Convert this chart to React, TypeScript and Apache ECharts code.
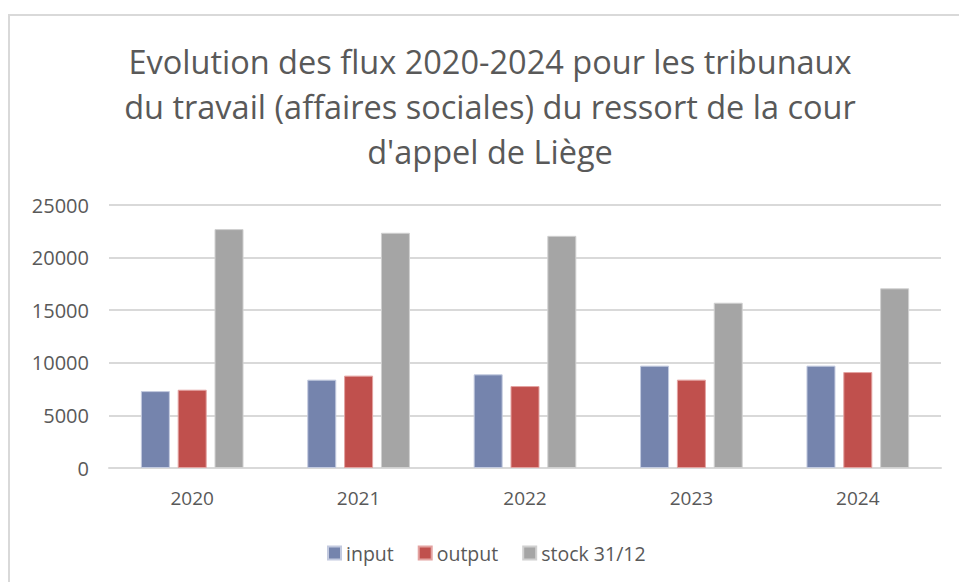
import React, { useEffect, useRef } from "react";
import * as echarts from "echarts";

const years = ["2020", "2021", "2022", "2023", "2024"];
const inputValues = [7310, 8400, 8900, 9730, 9730];
const outputValues = [7440, 8780, 7790, 8400, 9120];
const stockValues = [22710, 22360, 22070, 15710, 17080];
const seriesNames = ["input", "output", "stock 31/12"];
const titleLines = [
  "Evolution des flux 2020-2024 pour les tribunaux",
  "du travail (affaires sociales) du ressort de la cour",
  "d'appel de Liège",
];

const FONT = "'Open Sans', 'Noto Sans', sans-serif";
const TEXT = "#595959";

export default function App() {
  const ref = useRef<HTMLDivElement>(null);
  useEffect(() => {
    if (!ref.current) return;
    const chart = echarts.init(ref.current, null, { renderer: "svg" });
    chart.setOption({
      animation: false,
      backgroundColor: "#ffffff",
      textStyle: { fontFamily: FONT },
      graphic: [
        {
          type: "rect",
          shape: { x: 9, y: 15, width: 1000, height: 700 },
          style: { fill: "none", stroke: "#d9d9d9", lineWidth: 2 },
          silent: true,
        },
        {
          type: "text",
          x: 490,
          y: 106,
          style: {
            text: titleLines.join("\n"),
            align: "center",
            verticalAlign: "middle",
            fontFamily: FONT,
            fontSize: 32.5,
            lineHeight: 45,
            fill: TEXT,
          },
        },
      ],
      legend: {
        left: 322,
        top: 538,
        itemWidth: 13,
        itemHeight: 13,
        itemGap: 24,
        icon: "rect",
        textStyle: { color: TEXT, fontSize: 19.5, fontFamily: FONT },
        data: seriesNames,
      },
      grid: { left: 109, right: 18, top: 205, bottom: 114 },
      xAxis: {
        type: "category",
        data: years,
        axisTick: { show: false },
        axisLine: { lineStyle: { color: "#d9d9d9", width: 2 } },
        axisLabel: { color: TEXT, fontSize: 19, margin: 20, fontFamily: FONT },
      },
      yAxis: {
        type: "value",
        min: 0,
        max: 25000,
        interval: 5000,
        axisLine: { show: false },
        axisTick: { show: false },
        splitLine: { lineStyle: { color: "#d9d9d9", width: 2 } },
        axisLabel: {
          color: TEXT,
          fontSize: 20,
          margin: 20,
          fontFamily: FONT,
          formatter: (v: number) => String(v),
        },
      },
      series: [
        {
          name: seriesNames[0],
          type: "bar",
          data: inputValues,
          barWidth: 29,
          barGap: "27%",
          itemStyle: { color: "#7584ad", borderColor: "#c3cadf", borderWidth: 1 },
        },
        {
          name: seriesNames[1],
          type: "bar",
          data: outputValues,
          barWidth: 29,
          barGap: "27%",
          itemStyle: { color: "#c0504d", borderColor: "#e3a3a1", borderWidth: 1 },
        },
        {
          name: seriesNames[2],
          type: "bar",
          data: stockValues,
          barWidth: 29,
          barGap: "27%",
          itemStyle: { color: "#a5a5a5", borderColor: "#d0d0d0", borderWidth: 1 },
        },
      ],
    });
    return () => chart.dispose();
  }, []);
  return (
    <div
      ref={ref}
      style={{ position: "fixed", left: 0, top: 0, width: 959, height: 582 }}
    />
  );
}
